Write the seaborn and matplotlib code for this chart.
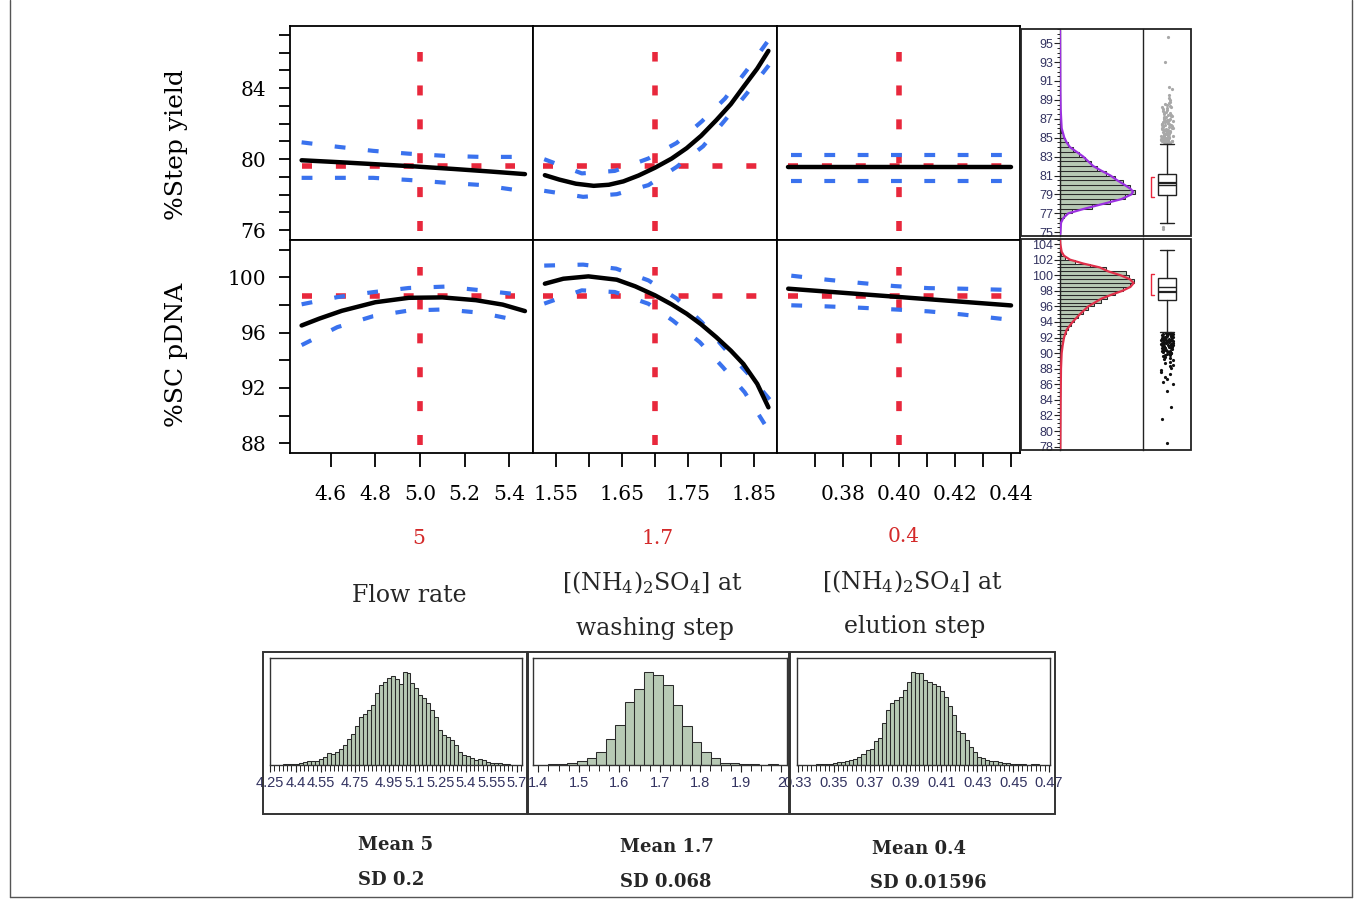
import numpy as np
import pandas as pd
import matplotlib
matplotlib.use("Agg")
import matplotlib.pyplot as plt
import seaborn as sns
from matplotlib.patches import Rectangle
from matplotlib.lines import Line2D
from matplotlib.ticker import FixedLocator, MultipleLocator

# ======================= DATA =======================
responses = ["%Step yield", "%SC pDNA"]
factor_line1 = ["Flow rate", "[(NH$_4$)$_2$SO$_4$] at", "[(NH$_4$)$_2$SO$_4$] at"]
factor_line2 = ["", "washing step", "elution step"]
current_labels = ["5", "1.7", "0.4"]
current_x = [5.0, 1.7, 0.4]
current_y = [79.6, 98.62]
mean_labels = ["Mean 5", "Mean 1.7", "Mean 0.4"]
sd_labels = ["SD 0.2", "SD 0.068", "SD 0.01596"]

# --- prediction profiler: flow rate column
yield_flow_fit_x = [4.47, 4.64, 4.81, 4.98, 5.15, 5.31, 5.47]
yield_flow_fit = [79.94, 79.83, 79.71, 79.59, 79.45, 79.31, 79.16]
flow_ci_x = [4.47, 4.63, 4.79, 4.95, 5.11, 5.27, 5.42]
yield_flow_hi = [80.95, 80.70, 80.47, 80.31, 80.19, 80.13, 80.13]
yield_flow_lo = [78.95, 78.95, 78.95, 78.83, 78.68, 78.55, 78.28]
sc_flow_fit_x = [4.47, 4.55, 4.65, 4.80, 4.95, 5.10, 5.25, 5.37, 5.47]
sc_flow_fit = [96.52, 97.02, 97.58, 98.20, 98.52, 98.55, 98.35, 98.03, 97.56]
sc_flow_hi = [98.05, 98.57, 98.93, 99.23, 99.33, 99.07, 98.80]
sc_flow_lo = [95.10, 96.40, 97.19, 97.60, 97.68, 97.44, 96.95]

# --- washing step column
wash_fit_x = [1.533, 1.555, 1.580, 1.607, 1.630, 1.652, 1.675, 1.700,
              1.725, 1.748, 1.770, 1.793, 1.815, 1.834, 1.855, 1.872]
yield_wash_fit = [79.10, 78.85, 78.62, 78.50, 78.56, 78.75, 79.08, 79.52,
                  80.03, 80.62, 81.32, 82.20, 83.10, 84.06, 85.10, 86.10]
yield_wash_hi_x = [1.532, 1.589, 1.639, 1.690, 1.733, 1.771, 1.806, 1.839, 1.876]
yield_wash_hi = [80.00, 79.20, 79.34, 80.04, 80.92, 82.13, 83.41, 85.00, 86.90]
yield_wash_lo_x = [1.532, 1.591, 1.642, 1.690, 1.733, 1.773, 1.806, 1.839, 1.876]
yield_wash_lo = [78.22, 77.88, 78.03, 78.54, 79.57, 80.73, 82.19, 83.69, 85.45]
sc_wash_fit_x = [1.533, 1.561, 1.599, 1.642, 1.670, 1.700, 1.725, 1.748,
                 1.770, 1.793, 1.815, 1.834, 1.855, 1.872]
sc_wash_fit = [99.54, 99.90, 100.07, 99.83, 99.35, 98.70, 98.05, 97.37,
               96.60, 95.67, 94.70, 93.74, 92.30, 90.60]
sc_wash_hi_x = [1.532, 1.591, 1.641, 1.690, 1.733, 1.771, 1.806, 1.839, 1.876]
sc_wash_hi = [100.85, 100.92, 100.63, 99.78, 98.46, 96.76, 94.83, 93.14, 91.05]
sc_wash_lo_x = [1.532, 1.589, 1.639, 1.690, 1.727, 1.768, 1.803, 1.836, 1.874]
sc_wash_lo = [98.10, 99.06, 98.94, 98.09, 96.88, 95.31, 93.50, 91.69, 88.80]

# --- elution step column
elu_fit_x = [0.3604, 0.4400]
yield_elu_fit = [79.57, 79.57]
elu_ci_x = [0.3615, 0.4375]
yield_elu_hi = [80.26, 80.26]
yield_elu_lo = [78.80, 78.80]
sc_elu_fit = [99.18, 97.97]
sc_elu_ci_x = [0.3615, 0.3742, 0.3864, 0.3983, 0.4105, 0.4224, 0.4375]
sc_elu_hi = [100.12, 99.83, 99.59, 99.37, 99.22, 99.18, 99.10]
sc_elu_lo = [97.98, 97.90, 97.80, 97.68, 97.54, 97.32, 96.98]

# --- simulated response distributions (right side)
yield_bin_start, yield_bin_w = 76.0, 0.5
yield_counts = [3, 12, 35, 95, 150, 195, 225, 210, 190, 165, 140, 112, 92,
                75, 58, 40, 25, 15, 8, 4, 2]
yield_dens_v = [74.8, 76.0, 76.5, 77.0, 77.5, 78.0, 78.5, 79.0, 79.3, 79.6,
                80.0, 80.5, 81.0, 81.5, 82.0, 82.5, 83.0, 83.5, 84.0, 84.5,
                85.0, 86.0, 88.0, 90.0, 96.3]
yield_dens = [1, 3, 10, 25, 75, 130, 185, 215, 220, 212, 195, 172, 152, 125,
              100, 85, 70, 50, 30, 20, 13, 5, 2, 1, 0]
yield_box = dict(med=80.0, q1=78.96, q3=81.18, whislo=76.0, whishi=84.3, mean=80.2)
yield_short_half = [78.7, 80.8]
yield_outliers = [84.4, 84.45, 84.5, 84.55, 84.6, 84.65, 84.7, 84.75, 84.8, 84.85,
                  84.9, 84.95, 85.0, 85.05, 85.1, 85.15, 85.2, 85.25, 85.3, 85.35,
                  85.4, 85.45, 85.5, 85.6, 85.65, 85.7, 85.8, 85.85, 85.9, 86.0,
                  86.05, 86.1, 86.2, 86.3, 86.35, 86.4, 86.5, 86.6, 86.7, 86.75,
                  86.8, 86.9, 87.0, 87.1, 87.2, 87.3, 87.4, 87.5, 87.6, 87.7,
                  87.8, 88.0, 88.1, 88.3, 88.5, 88.6, 88.8, 89.0, 89.2, 89.5,
                  84.42, 84.52, 84.62, 84.72, 84.82, 84.92, 85.02, 85.12, 85.22,
                  85.32, 85.42, 85.52, 85.62, 85.72, 85.82, 85.92, 86.02, 86.12,
                  86.22, 86.32, 86.42, 86.52, 86.62, 86.72, 86.82, 86.92, 87.02,
                  87.15, 87.25, 87.45, 87.65, 87.9, 88.2, 88.4, 88.7,
                  90.1, 90.4, 93.0, 95.7, 75.6, 75.3]

sc_bin_start, sc_bin_w = 90.0, 0.5
sc_counts = [3, 4, 6, 9, 12, 17, 24, 32, 42, 55, 68, 85, 102, 122, 142, 165,
             190, 212, 222, 208, 200, 140, 90, 45, 15, 4]
sc_dens_v = [77.7, 84.0, 88.0, 90.0, 91.0, 92.0, 93.0, 94.0, 95.0, 96.0, 97.0,
             97.5, 98.0, 98.5, 99.0, 99.5, 100.0, 100.5, 101.0, 101.5, 102.0,
             102.5, 103.0, 104.0, 104.6]
sc_dens = [1, 2, 3, 5, 8, 12, 20, 38, 60, 85, 125, 155, 188, 212, 222, 210,
           182, 145, 120, 70, 30, 12, 5, 1, 0]
sc_box = dict(med=98.5, q1=96.8, q3=99.6, whislo=92.7, whishi=103.3, mean=97.9)
sc_short_half = [97.5, 100.1]
sc_outliers = [92.6, 92.55, 92.5, 92.45, 92.4, 92.35, 92.3, 92.25, 92.2, 92.15,
               92.1, 92.05, 92.0, 91.95, 91.9, 91.85, 91.8, 91.75, 91.7, 91.65,
               91.6, 91.55, 91.5, 91.45, 91.4, 91.35, 91.3, 91.25, 91.2, 91.15,
               91.1, 91.05, 91.0, 90.95, 90.9, 90.85, 90.8, 90.7, 90.6, 90.5,
               90.4, 90.3, 90.2, 90.1, 90.0, 89.9, 89.8, 89.7, 89.6, 89.5,
               92.62, 92.52, 92.42, 92.32, 92.22, 92.12, 92.02, 91.92, 91.82,
               91.72, 91.62, 91.52, 91.42, 91.32, 91.22, 91.12, 91.02, 90.92,
               90.82, 90.72, 90.62, 90.52, 90.42, 90.32, 90.22, 90.05, 89.85,
               89.4, 89.3, 89.1, 88.9, 88.7, 88.5, 88.3, 88.1, 87.9, 87.6,
               87.3, 87.0, 86.7, 86.3, 86.0, 85.1, 83.1, 81.5, 78.5]

# --- input factor distributions (bottom)
flow_bin_start, flow_bin_w = 4.328, 0.02335
flow_counts = [3, 4, 4, 4, 7, 9, 11, 12, 13, 17, 25, 35, 33, 40, 49, 61, 78,
               93, 117, 143, 154, 164, 179, 214, 239, 249, 259, 266, 257, 241,
               277, 275, 245, 230, 210, 200, 185, 165, 145, 105, 90, 83, 75, 60,
               38, 30, 27, 20, 15, 19, 15, 9, 7, 7, 6, 3, 2]
flow_ticks = [4.25, 4.4, 4.55, 4.75, 4.95, 5.1, 5.25, 5.4, 5.55, 5.7]
flow_ticklabels = ["4.25", "4.4", "4.55", "4.75", "4.95", "5.1", "5.25", "5.4", "5.55", "5.7"]

wash_bin_start, wash_bin_w = 1.4247, 0.0236
wash_counts = [2, 3, 7, 12, 20, 40, 77, 120, 187, 227, 279, 270, 240, 180,
               117, 70, 40, 20, 7, 7, 3, 3, 0, 3]
wash_ticks = [1.4, 1.5, 1.6, 1.7, 1.8, 1.9, 2.0]
wash_ticklabels = ["1.4", "1.5", "1.6", "1.7", "1.8", "1.9", "2"]

elu_bin_start, elu_bin_w = 0.3401, 0.0023
elu_counts = [2, 3, 2, 4, 7, 8, 9, 12, 14, 19, 25, 33, 45, 49, 73, 82, 127, 163,
              185, 195, 203, 223, 248, 279, 275, 275, 255, 248, 241, 235, 221,
              202, 175, 149, 101, 95, 75, 55, 40, 25, 20, 16, 13, 11, 9, 7, 5,
              4, 3, 2, 2, 1, 2, 3]
elu_ticks = [0.33, 0.35, 0.37, 0.39, 0.41, 0.43, 0.45, 0.47]
elu_ticklabels = ["0.33", "0.35", "0.37", "0.39", "0.41", "0.43", "0.45", "0.47"]

# ======================= STYLE =======================
sns.set_theme(style="ticks")
plt.rcParams["font.family"] = ["DejaVu Serif"]
plt.rcParams["mathtext.fontset"] = "dejavuserif"

RED = "#e8283c"
BLUE = "#3a72ee"
BAR = "#b7c9b4"
BAREDGE = "#2a2a2a"
SANS = ["Liberation Sans", "DejaVu Sans"]
TICKCOL = "#333360"

W, H = 1362, 899
fig = plt.figure(figsize=(W / 100, H / 100), dpi=100)
fig.patch.set_facecolor("white")


def px_axes(x0, y0, x1, y1):
    return fig.add_axes([x0 / W, 1 - y1 / H, (x1 - x0) / W, (y1 - y0) / H])


def line(ax, x, y, color, lw, ls="-", z=3):
    sns.lineplot(x=list(x), y=list(y), ax=ax, color=color, linewidth=lw, linestyle=ls,
                 sort=False, estimator=None, errorbar=None, legend=False, zorder=z)


def hist(ax, start, width, counts, orient):
    n = len(counts)
    edges = start + width * np.arange(n + 1)
    df = pd.DataFrame({"v": (edges[:-1] + edges[1:]) / 2, "n": np.asarray(counts, float)})
    kw = dict(data=df, weights="n", bins=list(edges), ax=ax, color=BAR,
              edgecolor=BAREDGE, linewidth=0.75, alpha=1)
    if orient == "h":
        sns.histplot(y="v", **kw)
    else:
        sns.histplot(x="v", **kw)


# ======================= PROFILER =======================
col_px = [(290, 533), (533, 777), (777, 1020)]
row_px = [(26, 240), (240, 453)]
col_xlim = [(4.418, 5.506), (1.515, 1.885), (0.3564, 0.4432)]
row_ylim = [(75.45, 87.5), (87.3, 102.7)]
hline_span = [(0.05, 0.925), (0.042, 0.923), (0.047, 0.925)]
vline_span = [(0.042, 0.879), (0.038, 0.875)]

curves = {
    (0, 0): (yield_flow_fit_x, yield_flow_fit, flow_ci_x, yield_flow_hi, flow_ci_x, yield_flow_lo),
    (1, 0): (sc_flow_fit_x, sc_flow_fit, flow_ci_x, sc_flow_hi, flow_ci_x, sc_flow_lo),
    (0, 1): (wash_fit_x, yield_wash_fit, yield_wash_hi_x, yield_wash_hi, yield_wash_lo_x, yield_wash_lo),
    (1, 1): (sc_wash_fit_x, sc_wash_fit, sc_wash_hi_x, sc_wash_hi, sc_wash_lo_x, sc_wash_lo),
    (0, 2): (elu_fit_x, yield_elu_fit, elu_ci_x, yield_elu_hi, elu_ci_x, yield_elu_lo),
    (1, 2): (elu_fit_x, sc_elu_fit, sc_elu_ci_x, sc_elu_hi, sc_elu_ci_x, sc_elu_lo),
}

red_ls = (0, (1.8, 4.3))
blue_ls = (0, (2.6, 5.4))

for r in range(2):
    for c in range(3):
        ax = px_axes(col_px[c][0], row_px[r][0], col_px[c][1], row_px[r][1])
        fx, fy, hx, hy, lx, ly = curves[(r, c)]
        ax.axhline(current_y[r], xmin=hline_span[c][0], xmax=hline_span[c][1],
                   color=RED, lw=4, linestyle=red_ls, zorder=1)
        ax.axvline(current_x[c], ymin=vline_span[r][0], ymax=vline_span[r][1],
                   color=RED, lw=4, linestyle=red_ls, zorder=1)
        line(ax, hx, hy, BLUE, 3.0, blue_ls, z=2)
        line(ax, lx, ly, BLUE, 3.0, blue_ls, z=2)
        line(ax, fx, fy, "black", 3.2, "-", z=3)
        ax.set_xlim(*col_xlim[c])
        ax.set_ylim(*row_ylim[r])
        ax.set_xlabel("")
        ax.set_ylabel("")
        for s in ax.spines.values():
            s.set_visible(True)
            s.set_color("black")
            s.set_linewidth(1.3)
        if c == 0:
            if r == 0:
                ax.yaxis.set_major_locator(FixedLocator([76, 80, 84]))
                ax.yaxis.set_minor_locator(MultipleLocator(1))
            else:
                ax.yaxis.set_major_locator(FixedLocator([88, 92, 96, 100]))
                ax.yaxis.set_minor_locator(MultipleLocator(2))
            ax.tick_params(axis="y", which="both", left=True, length=8, width=1.3,
                           color="black", direction="out")
            ax.tick_params(axis="y", which="major", labelsize=14.5, pad=9,
                           labelcolor="black")
        else:
            ax.tick_params(axis="y", which="both", left=False, labelleft=False)
        if r == 0:
            ax.tick_params(axis="x", which="both", bottom=False, labelbottom=False)
        else:
            if c == 0:
                ax.xaxis.set_major_locator(FixedLocator([4.6, 4.8, 5.0, 5.2, 5.4]))
                ax.set_xticklabels(["4.6", "4.8", "5.0", "5.2", "5.4"])
            elif c == 1:
                ax.xaxis.set_major_locator(FixedLocator([1.55, 1.65, 1.75, 1.85]))
                ax.set_xticklabels(["1.55", "1.65", "1.75", "1.85"])
                ax.xaxis.set_minor_locator(FixedLocator([1.60, 1.70, 1.80]))
            else:
                ax.xaxis.set_major_locator(FixedLocator([0.38, 0.40, 0.42, 0.44]))
                ax.set_xticklabels(["0.38", "0.40", "0.42", "0.44"])
                ax.xaxis.set_minor_locator(FixedLocator([0.37, 0.39, 0.41, 0.43]))
            ax.tick_params(axis="x", which="both", bottom=True, length=10, width=1.3,
                           color="black", direction="out")
            ax.tick_params(axis="x", which="major", labelsize=14.5, pad=13,
                           labelcolor="black")

fig.text(176 / W, 1 - 145 / H, responses[0], rotation=90, ha="center", va="center",
         fontsize=18, color="black")
fig.text(176 / W, 1 - 355 / H, responses[1], rotation=90, ha="center", va="center",
         fontsize=18, color="black")

cur_pos = [(419, 538), (658, 538), (904, 537)]
for (x, y), s in zip(cur_pos, current_labels):
    fig.text(x / W, 1 - y / H, s, color="#d42a2a", fontsize=14.5, ha="center", va="center")
name_pos1 = [(409, 596), (652, 583), (912, 582)]
name_pos2 = [None, (655, 628), (915, 627)]
for i in range(3):
    x, y = name_pos1[i]
    fig.text(x / W, 1 - y / H, factor_line1[i], fontsize=17, ha="center", va="center")
    if factor_line2[i]:
        x, y = name_pos2[i]
        fig.text(x / W, 1 - y / H, factor_line2[i], fontsize=17, ha="center", va="center")

# ======================= RIGHT SIDE DISTRIBUTIONS =======================
side = [
    dict(frame=(1021, 29, 1191, 236), ylim=(74.6, 96.5), start=yield_bin_start, w=yield_bin_w,
         counts=yield_counts, dv=yield_dens_v, d=yield_dens, dcol="#9b30e0",
         box=yield_box, sh=yield_short_half, out=yield_outliers, ocol="#a8a8a8",
         major=list(range(75, 97, 2))),
    dict(frame=(1021, 239, 1191, 450), ylim=(77.57, 104.65), start=sc_bin_start, w=sc_bin_w,
         counts=sc_counts, dv=sc_dens_v, d=sc_dens, dcol="#e0304a",
         box=sc_box, sh=sc_short_half, out=sc_outliers, ocol="#111111",
         major=list(range(78, 105, 2))),
]
np.random.seed(3)
for sp in side:
    x0, y0, x1, y1 = sp["frame"]
    fig.patches.append(Rectangle((x0 / W, 1 - y1 / H), (x1 - x0) / W, (y1 - y0) / H,
                                 transform=fig.transFigure, fill=False,
                                 edgecolor="#222222", lw=1.3, zorder=10))
    hax = px_axes(1060, y0, 1143, y1)
    hist(hax, sp["start"], sp["w"], sp["counts"], "h")
    line(hax, sp["d"], sp["dv"], sp["dcol"], 1.6)
    hax.set_xlim(0, 250)
    hax.set_ylim(*sp["ylim"])
    hax.set_xlabel("")
    hax.set_ylabel("")
    for k in ["top", "right", "bottom"]:
        hax.spines[k].set_visible(False)
    hax.spines["left"].set_linewidth(1.0)
    hax.spines["left"].set_color("#222222")
    hax.yaxis.set_major_locator(FixedLocator(sp["major"]))
    hax.yaxis.set_minor_locator(MultipleLocator(0.5))
    hax.tick_params(axis="x", which="both", bottom=False, labelbottom=False)
    hax.tick_params(axis="y", which="major", length=4, width=0.8, pad=1,
                    labelsize=9, labelcolor=TICKCOL, color="#222222")
    hax.tick_params(axis="y", which="minor", length=2.5, width=0.7, color="#222222")
    for lab in hax.get_yticklabels():
        lab.set_family(SANS)
    hax.patch.set_alpha(0)

    bax = px_axes(1143, y0, 1191, y1)
    sns.stripplot(y=sp["out"], ax=bax, color=sp["ocol"], size=2.3, jitter=0.26,
                  linewidth=0, zorder=2)
    st = dict(sp["box"])
    st["fliers"] = []
    bax.bxp([st], positions=[0], widths=0.77, capwidths=[0.55], showfliers=False,
            showmeans=True, meanline=True, patch_artist=True,
            boxprops=dict(facecolor="white", edgecolor="#222222", linewidth=1.0),
            medianprops=dict(color="#222222", linewidth=1.0),
            meanprops=dict(color="#222222", linestyle="-", linewidth=1.6),
            whiskerprops=dict(color="#222222", linewidth=1.0),
            capprops=dict(color="#222222", linewidth=1.0))
    lo, hi = sp["sh"]
    bax.plot([-0.53, -0.66, -0.66, -0.53], [lo, lo, hi, hi], color=RED, lw=1.0, zorder=3)
    bax.set_xlim(-1, 1)
    bax.set_ylim(*sp["ylim"])
    bax.set_xlabel("")
    bax.set_ylabel("")
    for k in ["top", "right", "bottom"]:
        bax.spines[k].set_visible(False)
    bax.spines["left"].set_linewidth(1.0)
    bax.spines["left"].set_color("#222222")
    bax.tick_params(axis="both", which="both", left=False, bottom=False,
                    labelleft=False, labelbottom=False)
    bax.patch.set_alpha(0)

# ======================= BOTTOM FACTOR DISTRIBUTIONS =======================
bottom = [
    dict(outer=(263, 652, 527, 814), inner=(270, 658, 522, 765), xlim=(4.249, 5.731),
         start=flow_bin_start, w=flow_bin_w, counts=flow_counts, ticks=flow_ticks,
         labels=flow_ticklabels, minor=0.025),
    dict(outer=(528, 652, 789, 814), inner=(533, 658, 787, 765), xlim=(1.387, 2.014),
         start=wash_bin_start, w=wash_bin_w, counts=wash_counts, ticks=wash_ticks,
         labels=wash_ticklabels, minor=0.025),
    dict(outer=(790, 652, 1055, 814), inner=(797, 658, 1050, 765), xlim=(0.3295, 0.4705),
         start=elu_bin_start, w=elu_bin_w, counts=elu_counts, ticks=elu_ticks,
         labels=elu_ticklabels, minor=0.0025),
]
for bp in bottom:
    x0, y0, x1, y1 = bp["outer"]
    fig.patches.append(Rectangle((x0 / W, 1 - y1 / H), (x1 - x0) / W, (y1 - y0) / H,
                                 transform=fig.transFigure, fill=False,
                                 edgecolor="#333333", lw=1.4, zorder=10))
    ix0, iy0, ix1, iy1 = bp["inner"]
    ax = px_axes(ix0, iy0, ix1, iy1)
    hist(ax, bp["start"], bp["w"], bp["counts"], "v")
    ax.set_xlim(*bp["xlim"])
    ax.set_ylim(0, 320)
    ax.set_xlabel("")
    ax.set_ylabel("")
    for s in ax.spines.values():
        s.set_visible(True)
        s.set_color("#333333")
        s.set_linewidth(1.0)
    ax.xaxis.set_major_locator(FixedLocator(bp["ticks"]))
    ax.set_xticklabels(bp["labels"])
    ax.xaxis.set_minor_locator(MultipleLocator(bp["minor"]))
    ax.tick_params(axis="y", which="both", left=False, labelleft=False)
    ax.tick_params(axis="x", which="major", length=5, width=0.8, color="#222222",
                   labelsize=10.5, labelcolor=TICKCOL, pad=3)
    ax.tick_params(axis="x", which="minor", length=4, width=0.7, color="#222222")
    for lab in ax.get_xticklabels():
        lab.set_family(SANS)

mean_pos = [(358, 845), (620, 847), (872, 849)]
sd_pos = [(358, 880), (620, 882), (870, 883)]
for i in range(3):
    x, y = mean_pos[i]
    fig.text(x / W, 1 - y / H, mean_labels[i], fontsize=13, fontweight="bold",
             ha="left", va="center")
    x, y = sd_pos[i]
    fig.text(x / W, 1 - y / H, sd_labels[i], fontsize=13, fontweight="bold",
             ha="left", va="center")

for xs, ys in [((10, 10), (0, 897)), ((1352, 1352), (0, 897)), ((10, 1352), (897, 897))]:
    fig.add_artist(Line2D([x / W for x in xs], [1 - y / H for y in ys],
                          transform=fig.transFigure, color="#555555", lw=1.0))

fig.savefig("out.png", dpi=100, facecolor="white")
